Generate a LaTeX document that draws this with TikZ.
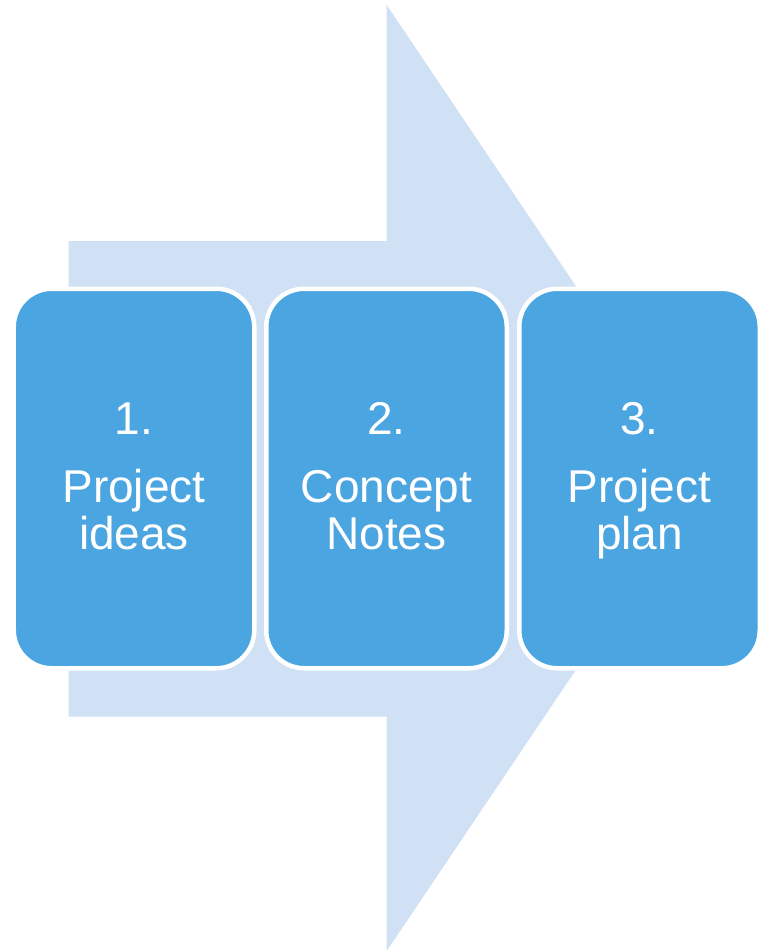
\documentclass[tikz,border=0pt]{standalone}
\usepackage{fontspec}
\setmainfont{Liberation Sans}
\definecolor{arrowblue}{RGB}{208,225,245}
\definecolor{boxblue}{RGB}{74,165,224}
\begin{document}
\begin{tikzpicture}[x=1bp,y=-1bp,
  stepbox/.style={fill=boxblue, draw=white, line width=4.5bp, rounded corners=38bp,
    minimum width=240.5bp, minimum height=379.5bp, inner sep=0pt,
    text=white, align=center, text depth=5bp,
    font=\fontsize{46bp}{47bp}\selectfont}]
\useasboundingbox (0,0) rectangle (761,951);
\fill[arrowblue] (68.7,241) -- (386.7,241) -- (386.7,5) -- (705,478) -- (386.7,951)
  -- (386.7,716.7) -- (68.7,716.7) -- cycle;
\node[stepbox] (b1) at (134,478.5) {1.\\[21bp]Project\\ideas};
\node[stepbox] (b2) at (386.5,478.5) {2.\\[21bp]Concept\\Notes};
\node[stepbox] (b3) at (639.5,478.5) {3.\\[21bp]Project\\plan};
\end{tikzpicture}
\end{document}
